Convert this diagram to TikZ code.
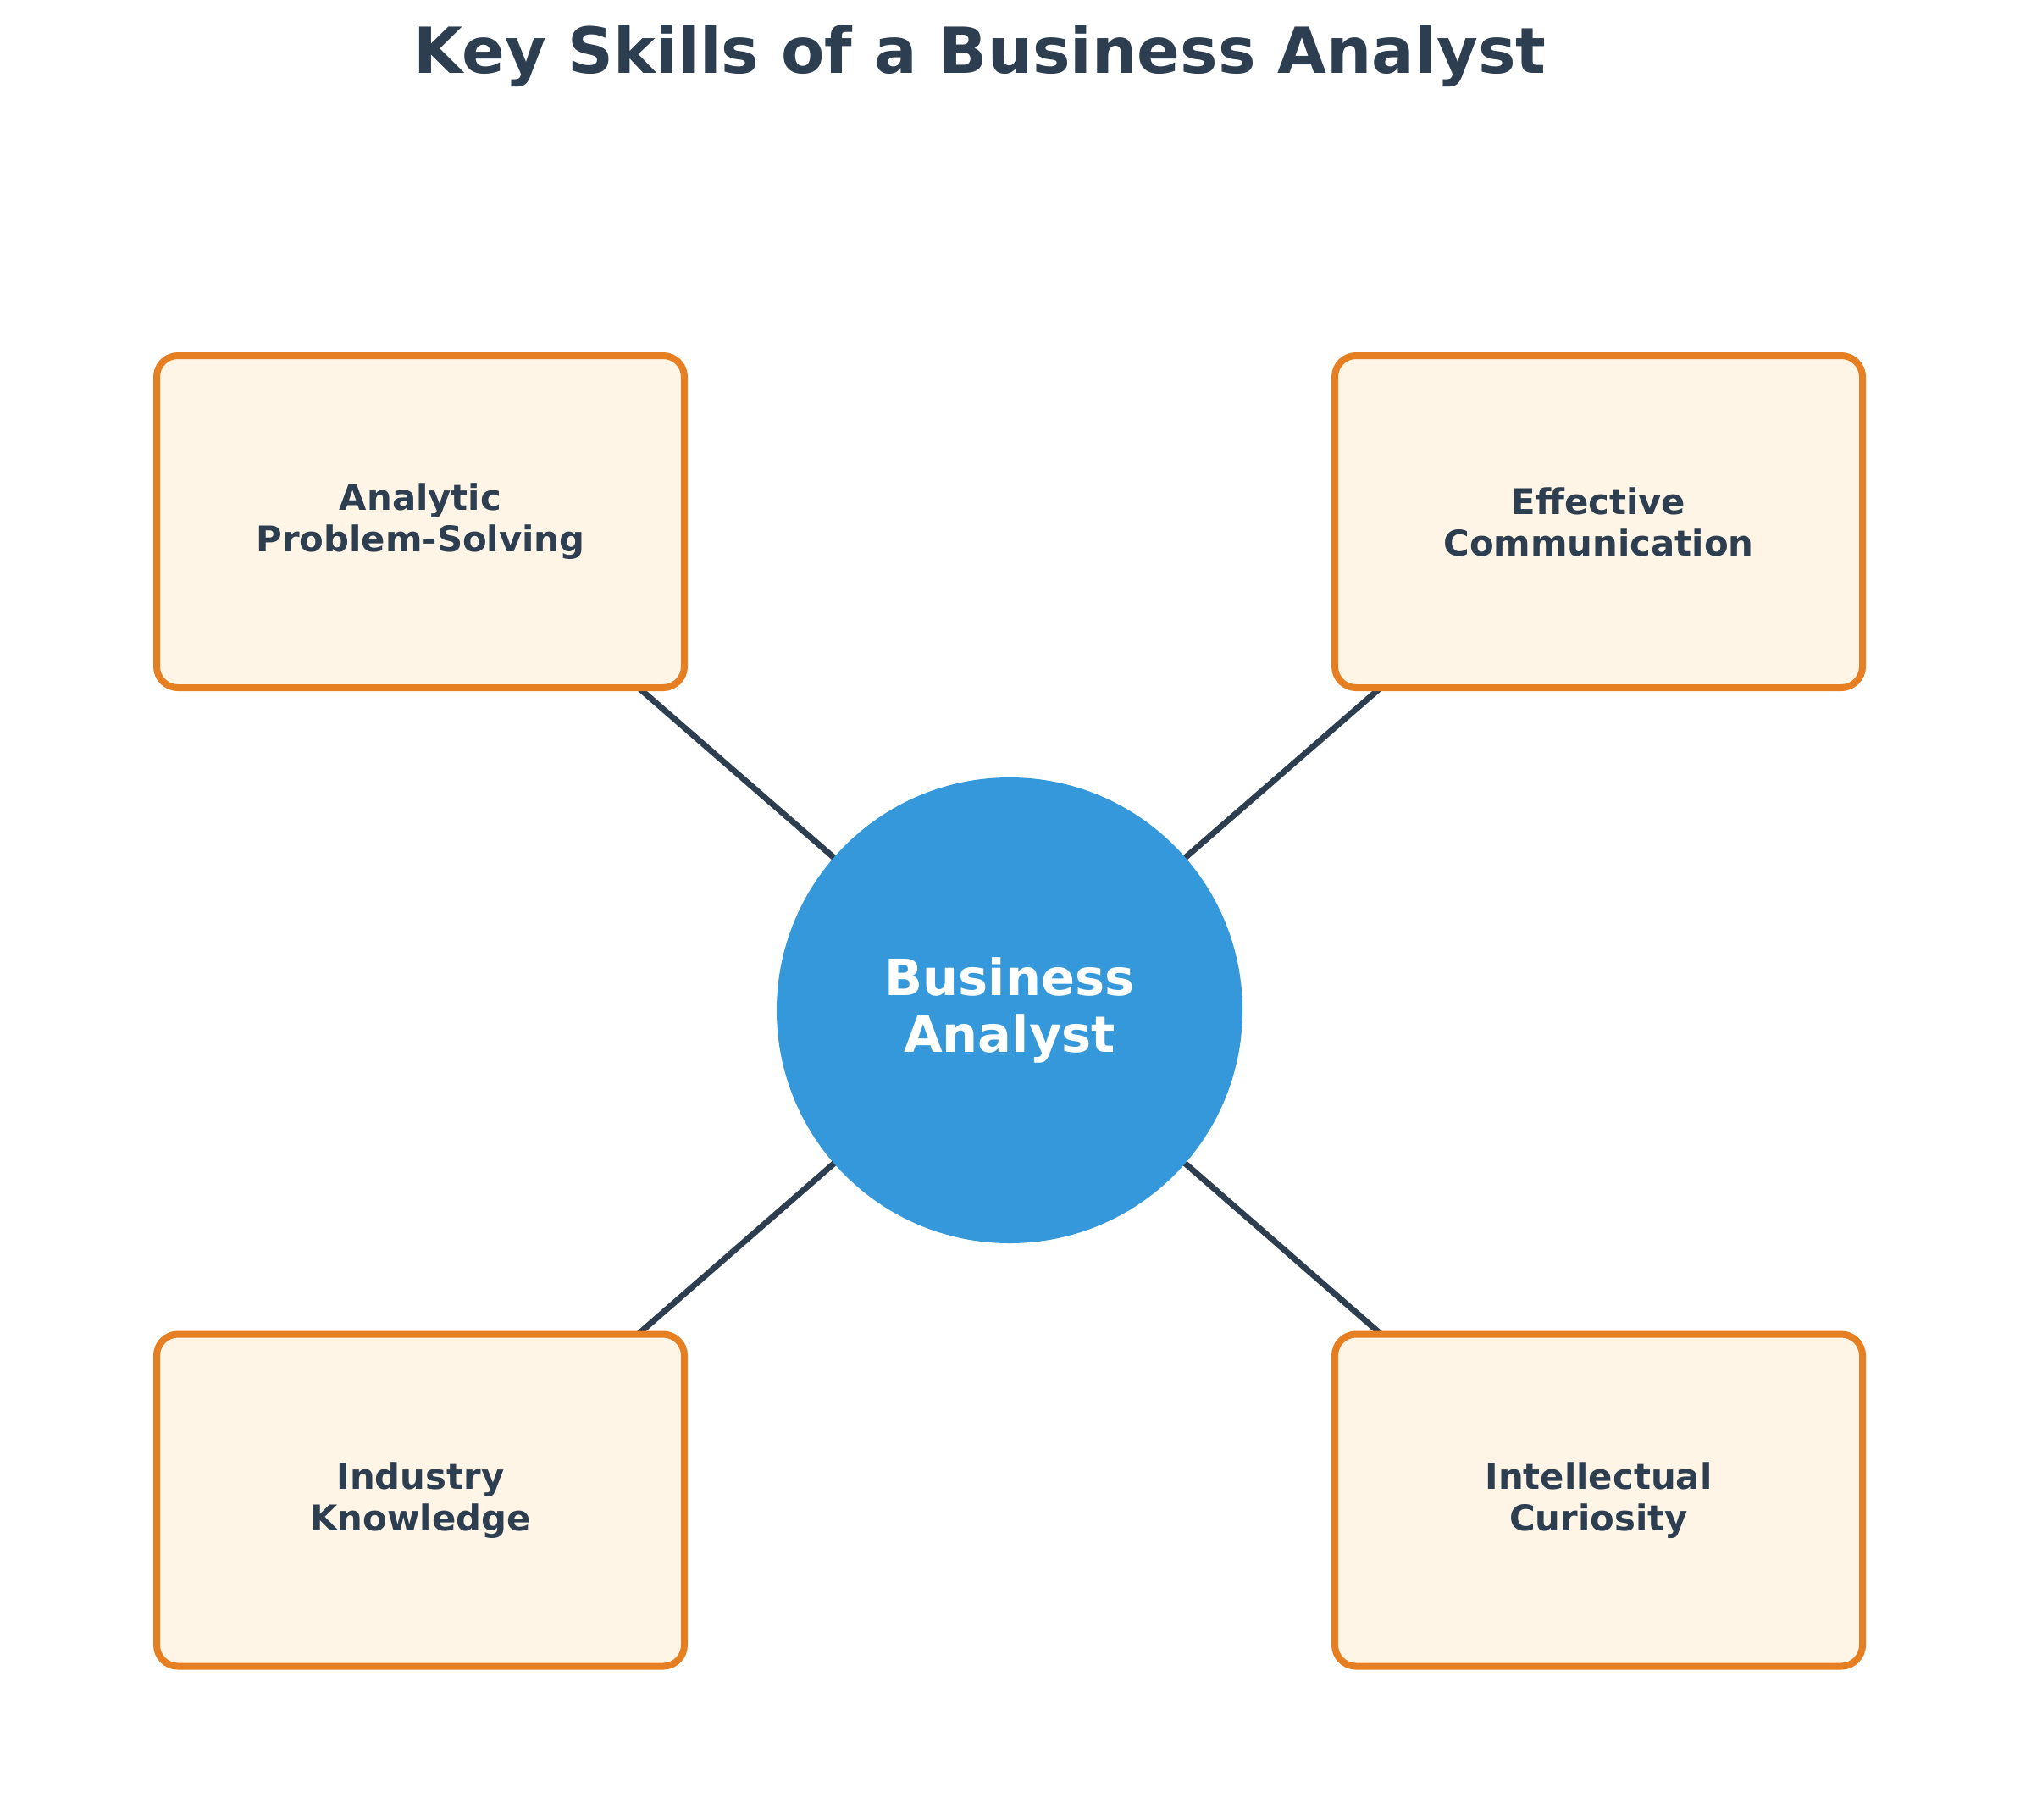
\documentclass[tikz,border=0pt]{standalone}
\usepackage{fontspec}
\setmainfont{DejaVu Sans}
\usetikzlibrary{backgrounds}

\definecolor{slatedark}{HTML}{2C3E50}
\definecolor{hubblue}{HTML}{3498DB}
\definecolor{skillorange}{HTML}{E67E22}
\definecolor{skillcream}{HTML}{FEF5E7}

\tikzset{
    skillbox/.style={draw=skillorange, fill=skillcream, line width=0.08cm,
        rounded corners=0.25cm, minimum width=6.23cm, minimum height=3.92cm,
        align=center, text=slatedark,
        font=\bfseries\fontsize{11.9pt}{13.9pt}\selectfont},
    hub/.style={circle, fill=hubblue, minimum size=5.5cm, inner sep=0pt,
        align=center, text=white,
        font=\bfseries\fontsize{16.8pt}{19.1pt}\selectfont},
    link/.style={draw=slatedark, line width=0.07cm}
}

\begin{document}
\begin{tikzpicture}

    % Canvas
    \useasboundingbox (0, 0) rectangle (23.85, -21.48);

    % Title
    \node[anchor=base, text=slatedark, font=\bfseries\fontsize{21.3pt}{25pt}\selectfont]
        (title) at (11.57, -0.87) {Key Skills of a Business Analyst};

    % Centre
    \node[hub] (ba) at (11.92, -11.93) {Business\\Analyst};

    % Skills
    \node[skillbox] (aps) at (4.965, -6.16) {Analytic\\Problem-Solving};
    \node[skillbox] (ec) at (18.875, -6.16) {Effective\\Communication};
    \node[skillbox] (ik) at (4.965, -17.715) {Industry\\Knowledge};
    \node[skillbox] (ic) at (18.875, -17.715) {Intellectual\\Curiosity};

    % Links (behind the nodes)
    \begin{pgfonlayer}{background}
        \foreach \s/\dx in {aps/0.32, ec/-0.32, ik/0.32, ic/-0.32} {
            \draw[link] (ba.center) -- ([xshift=\dx cm]\s.center);
        }
    \end{pgfonlayer}

\end{tikzpicture}
\end{document}
